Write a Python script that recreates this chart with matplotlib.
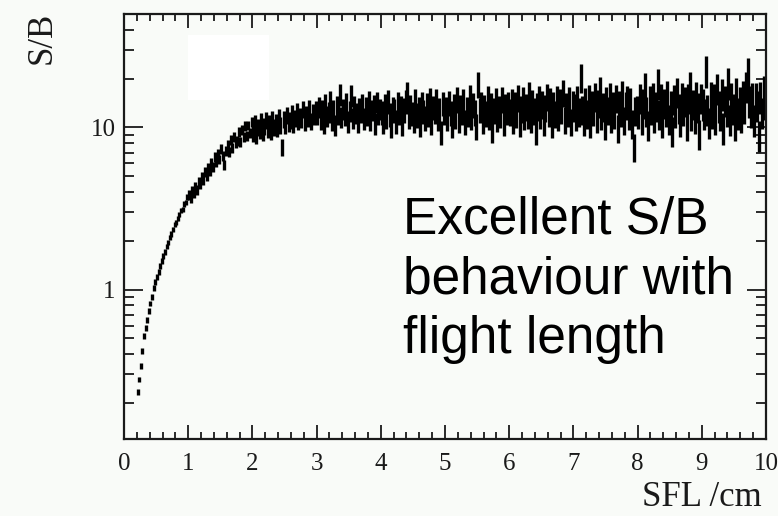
import numpy as np
import matplotlib
matplotlib.use("Agg")
import matplotlib.pyplot as plt
from matplotlib.ticker import FixedLocator, NullFormatter, MultipleLocator
from matplotlib.patches import Rectangle

# S/B per flight-length bin, 0.025 cm bins from 0.2 cm to 10 cm
bin_width = 0.025
x_start = 0.2

sb_02_10 = [0.235, 0.28, 0.34, 0.42, 0.52, 0.58, 0.65, 0.74, 0.82, 0.90,
            1.02, 1.12, 1.20, 1.28, 1.40, 1.50, 1.62, 1.70, 1.85, 1.95,
            2.10, 2.20, 2.35, 2.52, 2.60, 2.74, 2.90, 3.08, 3.12, 3.38,
            3.45, 3.72]
sb_10_20 = [3.85, 3.70, 4.05, 3.95, 4.30, 4.12, 4.60, 4.48, 4.95, 4.72,
            5.30, 5.02, 5.62, 5.38, 6.05, 5.72, 6.55, 6.10, 6.90, 6.35,
            7.35, 6.70, 5.90, 7.15, 7.85, 7.05, 8.40, 7.50, 8.75, 8.00,
            8.30, 9.35, 8.15, 9.70, 8.70, 10.2, 8.90, 10.3, 9.30, 10.8]
sb_20_30 = [9.2, 10.6, 9.0, 10.1, 9.6, 11.0, 9.4, 10.2, 11.1, 9.8,
            10.6, 9.5, 11.3, 10.0, 10.8, 9.9, 11.6, 10.4, 7.6, 11.2,
            10.3, 11.9, 10.7, 11.1, 12.2, 10.5, 11.4, 12.6, 10.9, 11.8,
            11.2, 12.9, 10.8, 12.1, 11.5, 13.2, 11.0, 12.4, 11.7, 13.0]
sb_30_40 = [12.1, 13.4, 11.3, 12.8, 10.7, 13.9, 11.8, 12.5, 14.6, 11.2,
            12.9, 10.4, 13.5, 12.2, 16.0, 11.6, 13.1, 12.0, 14.2, 10.9,
            12.7, 15.8, 11.5, 13.6, 12.3, 10.8, 13.2, 12.6, 14.0, 11.4,
            13.3, 12.0, 14.6, 11.1, 12.8, 13.7, 10.6, 14.4, 12.2, 13.0]
sb_40_50 = [12.4, 10.9, 13.8, 11.7, 14.5, 12.1, 10.3, 13.2, 12.8, 11.0,
            14.1, 12.5, 13.4, 10.7, 12.9, 14.6, 16.2, 11.8, 13.6, 12.3,
            11.2, 14.7, 12.0, 13.1, 10.5, 14.2, 12.6, 11.5, 13.9, 12.2,
            15.0, 10.8, 13.3, 12.7, 14.8, 11.4, 13.0, 9.4, 14.2, 12.5]
sb_50_60 = [13.1, 11.6, 14.3, 12.4, 10.5, 13.7, 12.0, 15.0, 11.3, 13.4,
            12.7, 14.6, 10.9, 13.0, 12.2, 15.4, 11.8, 13.9, 12.5, 10.2,
            18.5, 12.9, 14.1, 11.1, 13.5, 12.3, 15.2, 11.7, 13.8, 9.8,
            12.8, 14.9, 11.4, 13.2, 12.1, 15.0, 10.8, 13.6, 12.6, 14.0]
sb_60_70 = [12.6, 14.5, 11.2, 13.8, 12.3, 15.4, 10.7, 13.1, 14.9, 11.9,
            13.5, 12.0, 16.0, 11.4, 14.2, 12.8, 9.6, 13.6, 15.1, 12.1,
            14.0, 11.0, 13.3, 15.6, 12.5, 14.7, 10.6, 13.9, 12.2, 15.2,
            11.7, 14.4, 12.9, 16.5, 11.3, 13.7, 12.4, 15.0, 10.9, 14.1]
sb_70_80 = [13.4, 11.8, 15.1, 12.6, 20.5, 13.0, 11.1, 14.6, 12.3, 15.3,
            10.8, 13.9, 12.7, 15.6, 11.5, 14.2, 17.0, 12.1, 13.5, 10.4,
            14.8, 12.9, 15.7, 11.6, 13.7, 12.2, 15.3, 10.0, 14.0, 12.5,
            16.0, 11.2, 13.8, 15.0, 12.0, 14.5, 10.6, 7.6, 12.8, 13.1]
sb_80_90 = [12.4, 15.4, 11.3, 14.2, 17.8, 12.8, 10.5, 14.9, 13.1, 15.6,
            11.7, 13.6, 18.8, 12.2, 15.4, 10.9, 14.3, 12.7, 16.0, 11.4,
            13.9, 9.6, 15.0, 12.5, 16.6, 13.3, 11.1, 15.5, 12.9, 14.6,
            10.5, 15.3, 18.2, 12.0, 14.0, 11.6, 15.8, 13.5, 9.2, 15.2]
sb_90_100 = [14.1, 12.3, 22.5, 13.0, 10.8, 15.6, 12.6, 15.1, 11.5, 17.5,
             13.7, 12.1, 16.2, 10.0, 14.8, 12.9, 19.0, 11.3, 15.4, 13.2,
             10.6, 16.5, 12.4, 14.5, 11.8, 15.9, 13.4, 18.0, 21.8, 14.7,
             12.7, 15.5, 11.2, 15.3, 13.8, 9.0, 15.6, 12.5, 17.0, 14.2]

# relative size of the error bars in each 1 cm stretch (first one starts at 0.2)
rel_err = [0.04, 0.07, 0.12, 0.15, 0.17, 0.18, 0.19, 0.20, 0.21, 0.22]

chunks = [sb_02_10, sb_10_20, sb_20_30, sb_30_40, sb_40_50,
          sb_50_60, sb_60_70, sb_70_80, sb_80_90, sb_90_100]
sb = np.concatenate([np.array(c) for c in chunks])
sb_err = np.concatenate([np.array(c) * e for c, e in zip(chunks, rel_err)])
centers = x_start + bin_width * (np.arange(len(sb)) + 0.5)

bg = '#f9fbf8'
ink = '#1a1a1a'
plt.rcParams['font.family'] = ['Liberation Serif']

fig = plt.figure(figsize=(7.78, 5.16), dpi=100, facecolor=bg)
ax = fig.add_axes([124 / 778, 1 - 439 / 516, 642 / 778, 425 / 516])
ax.set_facecolor(bg)

# histogram drawn as bin-wide markers with vertical error bars
ax.errorbar(centers, sb, xerr=bin_width / 2, yerr=sb_err, fmt='none',
            ecolor='black', elinewidth=2.4, capsize=0)

ax.set_yscale('log')
ax.set_xlim(0, 10)
ax.set_ylim(0.12, 50)

ax.xaxis.set_major_locator(MultipleLocator(1))
ax.xaxis.set_minor_locator(MultipleLocator(0.2))
ax.yaxis.set_major_locator(FixedLocator([1, 10]))
ax.set_yticklabels(['1', '10'])
ax.yaxis.set_minor_locator(FixedLocator(
    [0.2, 0.3, 0.4, 0.5, 0.6, 0.7, 0.8, 0.9,
     2, 3, 4, 5, 6, 7, 8, 9, 20, 30, 40]))
ax.yaxis.set_minor_formatter(NullFormatter())

ax.tick_params(which='both', direction='in', top=True, right=True,
               width=1.3, colors=ink, labelsize=18, labelcolor=ink)
ax.tick_params(axis='x', which='major', length=10, pad=10)
ax.tick_params(axis='x', which='minor', length=5)
ax.tick_params(axis='y', which='major', length=14, pad=6)
ax.tick_params(axis='y', which='minor', length=7)
for s in ax.spines.values():
    s.set_linewidth(1.6)
    s.set_color(ink)

fig.text(42 / 778, 1 - 38 / 516, 'S/B', rotation=90, ha='center', va='center',
         fontsize=25, color=ink)
fig.text(702 / 778, 1 - 498 / 516, 'SFL /cm', ha='center', va='center',
         fontsize=25, color=ink)

# blank patch over the upper left of the frame
fig.patches.append(Rectangle((188 / 778, 1 - 100 / 516), 81 / 778, 65 / 516,
                             transform=fig.transFigure, facecolor='white',
                             edgecolor='none', zorder=5))

note = ['Excellent S/B', 'behaviour with', 'flight length']
for i, line in enumerate(note):
    fig.text(403 / 778, 1 - (233 + 60 * i) / 516, line, ha='left', va='baseline',
             fontsize=37, family='Liberation Sans', color='black')

fig.savefig('out.png', dpi=100, facecolor=bg)
